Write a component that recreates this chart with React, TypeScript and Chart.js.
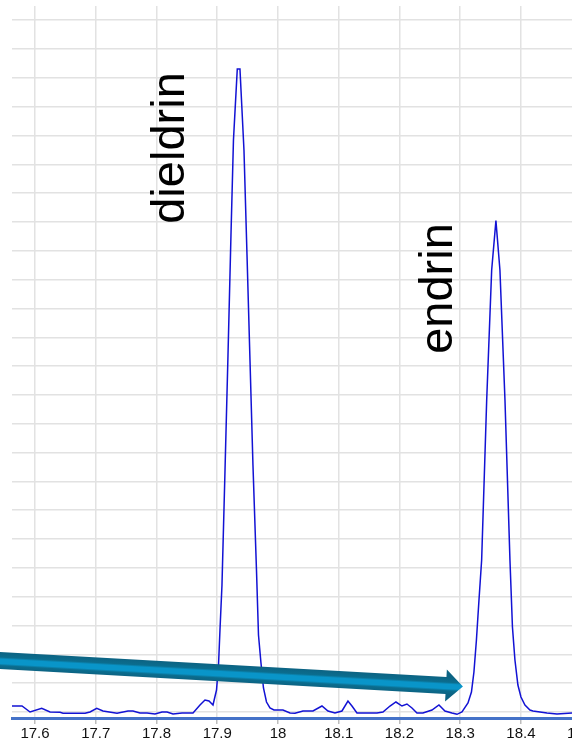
import React, { useEffect, useRef } from "react";
import { Chart, registerables } from "chart.js";

Chart.register(...registerables);

// Retention time (min)
const times = [
  17.5621, 17.5786, 17.5918, 17.611, 17.6247, 17.6412, 17.6461, 17.6823, 17.6905, 17.7016,
  17.7119, 17.735, 17.7531, 17.7613, 17.7728, 17.7844, 17.7975, 17.8091, 17.8173, 17.8272,
  17.842, 17.8601, 17.8716, 17.8798, 17.8864, 17.893, 17.8988, 17.9021, 17.9045, 17.9078,
  17.9128, 17.9177, 17.9226, 17.9267, 17.933, 17.9374, 17.944, 17.949, 17.9539, 17.9588,
  17.9646, 17.9679, 17.972, 17.9761, 17.9811, 17.9868, 17.9934, 18.0082, 18.0198, 18.028,
  18.0412, 18.0576, 18.0724, 18.0823, 18.0938, 18.1053, 18.1152, 18.1218, 18.13, 18.1465,
  18.163, 18.1728, 18.1844, 18.1942, 18.2041, 18.2123, 18.2206, 18.2288, 18.2387, 18.2535,
  18.265, 18.2749, 18.2864, 18.2947, 18.3029, 18.3128, 18.3185, 18.3226, 18.3267, 18.3309,
  18.3353, 18.3436, 18.3518, 18.3588, 18.3654, 18.3737, 18.3819, 18.386, 18.3901, 18.395,
  18.4, 18.4066, 18.4148, 18.4198, 18.4428, 18.4593, 18.484, 18.53, 18.6,
];

// Detector abundance
const abundance = [
  208, 208, 0, 128, 0, -10, -45, -45, 0, 128,
  35, -45, 35, 35, -35, -35, -69, 0, 0, -69,
  -35, -35, 243, 416, 382, 243, 763, 1630, 2845, 4406,
  8395, 12384, 16547, 19843, 22306, 22306, 19496, 15853, 12211, 8568,
  4926, 2671, 1700, 833, 347, 139, 69, 69, -35, -45,
  35, 35, 208, 35, -35, 35, 382, 208, -35, -35,
  -35, 0, 208, 347, 208, 278, 139, -35, -35, 69,
  243, 35, -35, -80, 0, 312, 694, 1388, 2498, 3885,
  5273, 10823, 15333, 17044, 15333, 10823, 5273, 2949, 1804, 937,
  520, 243, 69, 35, -35, -69, -35, -35, -35,
];

const xTickLabels = ["17.6", "17.7", "17.8", "17.9", "18", "18.1", "18.2", "18.3", "18.4", "18.5"];
const yTickValues = [
  0, 1000, 2000, 3000, 4000, 5000, 6000, 7000, 8000, 9000, 10000, 11000, 12000,
  13000, 14000, 15000, 16000, 17000, 18000, 19000, 20000, 21000, 22000, 23000, 24000,
];

// Peak labels (anchored at baseline, centred along text) in data units
const peakNames = ["dieldrin", "endrin"];
const peakLabelX = [17.8453, 18.2864];
const peakLabelY = [19565, 14691];

// Arrow annotation (tail / tip) in data units
const arrowX = [17.526, 18.3045];
const arrowY = [1807, 885];

const FONT = "'Liberation Sans', Arial, Helvetica, sans-serif";

const overlayPlugin = {
  id: "overlay",
  afterDatasetsDraw(chart: any) {
    const { ctx, scales } = chart;
    const xs = scales.x;
    const ys = scales.y;

    // arrow
    const x0 = xs.getPixelForValue(arrowX[0]);
    const y0 = ys.getPixelForValue(arrowY[0]);
    const x1 = xs.getPixelForValue(arrowX[1]);
    const y1 = ys.getPixelForValue(arrowY[1]);
    const ang = Math.atan2(y1 - y0, x1 - x0);
    const len = Math.hypot(x1 - x0, y1 - y0);
    const hw = 8.5;
    const headLen = 17;
    const headHw = 16;
    ctx.save();
    ctx.translate(x0, y0);
    ctx.rotate(ang);
    const g = ctx.createLinearGradient(0, -hw, 0, hw);
    g.addColorStop(0, "#0c6383");
    g.addColorStop(0.3, "#0b6d8e");
    g.addColorStop(0.42, "#0995c9");
    g.addColorStop(0.68, "#0995c9");
    g.addColorStop(0.8, "#0b6d8e");
    g.addColorStop(1, "#0c6383");
    ctx.fillStyle = g;
    ctx.beginPath();
    ctx.moveTo(0, -hw);
    ctx.lineTo(len - headLen, -hw);
    ctx.lineTo(len - headLen, -headHw);
    ctx.lineTo(len, 0);
    ctx.lineTo(len - headLen, headHw);
    ctx.lineTo(len - headLen, hw);
    ctx.lineTo(0, hw);
    ctx.closePath();
    ctx.fill();
    ctx.restore();

    // peak labels
    ctx.save();
    ctx.fillStyle = "#000";
    ctx.font = `47px ${FONT}`;
    ctx.textAlign = "center";
    ctx.textBaseline = "alphabetic";
    for (let i = 0; i < peakNames.length; i++) {
      const px = xs.getPixelForValue(peakLabelX[i]);
      const py = ys.getPixelForValue(peakLabelY[i]);
      ctx.save();
      ctx.translate(px, py);
      ctx.rotate(-Math.PI / 2);
      ctx.fillText(peakNames[i], 0, 0);
      ctx.restore();
    }
    ctx.restore();
  },
};

export default function App() {
  const ref = useRef<HTMLCanvasElement | null>(null);

  useEffect(() => {
    if (!ref.current) return;
    const data = times.map((t, i) => ({ x: t, y: abundance[i] }));
    const chart = new Chart(ref.current, {
      type: "line",
      data: {
        datasets: [
          {
            data,
            borderColor: "#1212d4",
            borderWidth: 1.5,
            pointRadius: 0,
            tension: 0,
            fill: false,
          },
        ],
      },
      options: {
        animation: false,
        responsive: false,
        devicePixelRatio: 1,
        layout: { padding: { left: 12, top: 6, right: 0, bottom: 0 } },
        plugins: { legend: { display: false }, tooltip: { enabled: false } },
        scales: {
          x: {
            type: "linear",
            min: 17.5621,
            max: 18.596,
            afterBuildTicks: (scale: any) => {
              scale.ticks = xTickLabels.map((l) => ({ value: parseFloat(l) }));
            },
            afterFit: (scale: any) => {
              scale.height = 27;
            },
            ticks: {
              autoSkip: false,
              maxRotation: 0,
              padding: 1,
              color: "#111",
              font: { family: FONT, size: 15 },
              callback: (_v: any, i: number) => xTickLabels[i],
            },
            grid: {
              color: "#e2e2e2",
              lineWidth: 1.5,
              tickLength: 6,
              tickColor: "#bdbdbd",
            },
            border: { display: true, color: "#4472c8", width: 3 },
          },
          y: {
            type: "linear",
            min: -208,
            max: 24491,
            afterBuildTicks: (scale: any) => {
              scale.ticks = yTickValues.map((v) => ({ value: v }));
            },
            afterFit: (scale: any) => {
              scale.width = 0;
            },
            ticks: { display: false },
            grid: { color: "#e2e2e2", lineWidth: 1.5, drawTicks: false },
            border: { display: false },
          },
        },
      },
      plugins: [overlayPlugin],
    });
    return () => chart.destroy();
  }, []);

  return (
    <div
      style={{
        position: "absolute",
        left: 0,
        top: 0,
        width: 572,
        height: 739,
        overflow: "hidden",
        background: "#fff",
      }}
    >
      <canvas ref={ref} width={640} height={745} style={{ display: "block" }} />
    </div>
  );
}
